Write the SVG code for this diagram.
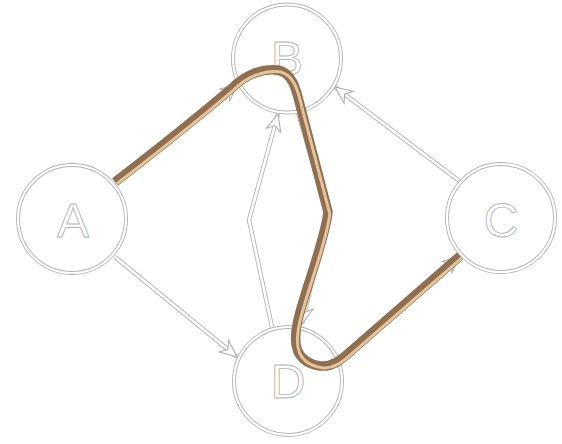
<svg xmlns="http://www.w3.org/2000/svg" width="562" height="444" viewBox="0 0 562 444">
<style>
.eo{fill:none;stroke:#b4b4b4;stroke-width:4.4;stroke-linejoin:round}
.ei{fill:none;stroke:#ffffff;stroke-width:2.6;stroke-linejoin:round}
.no{fill:#ffffff;stroke:#b4b4b4;stroke-width:4}
.ni{fill:none;stroke:#ffffff;stroke-width:2.2}
.lb{font-family:"Liberation Sans",Arial,sans-serif;font-size:48px;fill:#ffffff;stroke:#b4b4b4;stroke-width:0.9;text-anchor:middle}
.hb{fill:none;stroke:#8f6f4f;stroke-width:9.5;stroke-linecap:butt;stroke-linejoin:round}
.ht{fill:none;stroke:#e3c49d;stroke-width:3;stroke-linejoin:round}
</style>
<defs>
<marker id="arr" markerUnits="userSpaceOnUse" markerWidth="22" markerHeight="20" viewBox="-19 -10 21 20" refX="0" refY="0" orient="auto">
<path d="M0,0 L-17,-7.5 L-12,0 L-17,7.5 Z" fill="#ffffff" stroke="#aaaaaa" stroke-width="1"/>
</marker>
</defs>
<g id="connectors">
<g id="e-A-B"><path class="eo" d="M115,182 Q185,128 238,84"/><path class="ei" d="M115,182 Q185,128 238,84" marker-end="url(#arr)"/></g>
<g id="e-A-D"><path class="eo" d="M115,257 L237,357"/><path class="ei" d="M115,257 L237,357" marker-end="url(#arr)"/></g>
<g id="e-C-B"><path class="eo" d="M462,183 L335,87"/><path class="ei" d="M462,183 L335,87" marker-end="url(#arr)"/></g>
<g id="e-D-B"><path class="eo" d="M272,327 L249,220 L278,114"/><path class="ei" d="M272,327 L249,220 L278,114" marker-end="url(#arr)"/></g>
<g id="e-B-D"><path class="eo" d="M298,113 L328,212 L302,324"/><path class="ei" d="M298,113 L328,212 L302,324" marker-end="url(#arr)"/></g>
<g id="e-D-C"><path class="eo" d="M338,362 L460,256"/><path class="ei" d="M338,362 L460,256" marker-end="url(#arr)"/></g>
</g>
<g id="node-A"><circle class="no" cx="72" cy="219" r="54"/><circle class="ni" cx="72" cy="219" r="54"/><text class="lb" x="73" y="237">A</text></g>
<g id="node-B"><circle class="no" cx="287" cy="58.5" r="54"/><circle class="ni" cx="287" cy="58.5" r="54"/><text class="lb" x="287" y="75">B</text></g>
<g id="node-C"><circle class="no" cx="501" cy="218" r="54"/><circle class="ni" cx="501" cy="218" r="54"/><text class="lb" x="501" y="237">C</text></g>
<g id="node-D"><circle class="no" cx="288" cy="381" r="54"/><circle class="ni" cx="288" cy="381" r="54"/><text class="lb" x="288" y="398">D</text></g>
<g id="highlight">
<path class="hb" d="M115,182 Q185,128 232,88 C245,75 262,68 278,70 C292,73 296,88 300,105 L328,212 C325,240 305,290 298,320 C292,345 296,362 320,366 C332,367 340,361 352,350 L460,256"/>
<path class="ht" transform="translate(1.8,1.8)" d="M115,182 Q185,128 232,88 C245,75 262,68 278,70 C292,73 296,88 300,105 L328,212 C325,240 305,290 298,320 C292,345 296,362 320,366 C332,367 340,361 352,350 L460,256"/>
</g>
</svg>
